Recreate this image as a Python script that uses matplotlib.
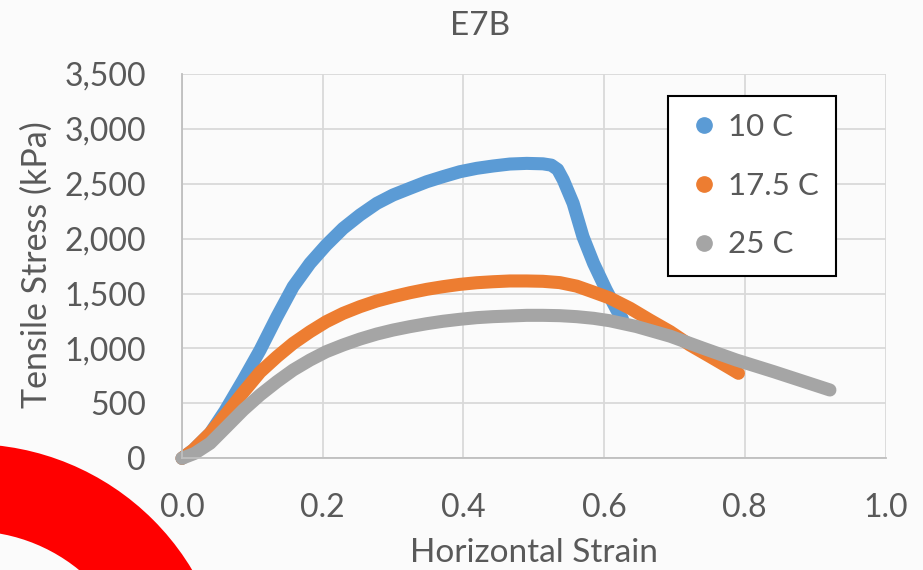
import matplotlib
matplotlib.use("Agg")
import matplotlib.pyplot as plt
from matplotlib.lines import Line2D
from matplotlib.patches import Wedge
from matplotlib.ticker import FuncFormatter

# ---- data ----
strain_10 = [0.0, 0.016, 0.040, 0.061, 0.087, 0.111, 0.135, 0.158, 0.182, 0.205, 0.229, 0.253,
             0.277, 0.300, 0.324, 0.348, 0.371, 0.395, 0.419, 0.442, 0.466, 0.490, 0.513,
             0.525, 0.534, 0.542, 0.556, 0.570, 0.585, 0.603, 0.618, 0.626]
stress_10 = [0, 76, 228, 430, 713, 986, 1290, 1563, 1776, 1942, 2094, 2216,
             2322, 2398, 2459, 2519, 2565, 2610, 2641, 2662, 2680, 2686, 2682,
             2670, 2630, 2535, 2322, 2018, 1776, 1533, 1351, 1270]

strain_175 = [0.0, 0.016, 0.040, 0.0635, 0.087, 0.111, 0.135, 0.158, 0.182, 0.205, 0.229, 0.253,
              0.277, 0.300, 0.324, 0.348, 0.371, 0.395, 0.419, 0.442, 0.466, 0.490, 0.513,
              0.537, 0.561, 0.580, 0.608, 0.637, 0.665, 0.694, 0.722, 0.751, 0.779, 0.791]
stress_175 = [0, 76, 228, 410, 600, 785, 925, 1047, 1153, 1244, 1320, 1381,
              1433, 1472, 1508, 1539, 1563, 1584, 1599, 1608, 1615, 1615, 1612,
              1600, 1568, 1525, 1460, 1366, 1259, 1153, 1032, 925, 820, 774]

strain_25 = [0.0, 0.018, 0.040, 0.0635, 0.087, 0.111, 0.135, 0.158, 0.182, 0.205, 0.229, 0.253,
             0.277, 0.300, 0.324, 0.348, 0.371, 0.395, 0.419, 0.442, 0.466, 0.490, 0.513,
             0.537, 0.561, 0.585, 0.608, 0.646, 0.694, 0.741, 0.788, 0.841, 0.921]
stress_25 = [0, 45, 137, 288, 440, 577, 698, 804, 895, 971, 1032, 1086,
             1132, 1168, 1199, 1226, 1248, 1266, 1281, 1290, 1296, 1302, 1302,
             1299, 1290, 1275, 1253, 1200, 1112, 1002, 895, 789, 622]

series_labels = ["10 C", "17.5 C", "25 C"]
series_colors = ["#5B9BD5", "#ED7D31", "#A5A5A5"]
x_ticks = [0.0, 0.2, 0.4, 0.6, 0.8, 1.0]
y_ticks = [0, 500, 1000, 1500, 2000, 2500, 3000, 3500]

title = "E7B"
x_label = "Horizontal Strain"
y_label = "Tensile Stress (kPa)"

# ---- figure ----
W, H = 923, 570
plt.rcParams["font.family"] = ["Lato", "DejaVu Sans"]
txt = "#595959"
fig = plt.figure(figsize=(W / 100, H / 100), dpi=100)
fig.patch.set_facecolor("#fbfbfb")

ax = fig.add_axes([182 / W, 1 - 458.3 / H, (885.5 - 182) / W, (458.3 - 74) / H])
ax.set_facecolor("#fbfbfb")
ax.set_xlim(0, 1.0)
ax.set_ylim(0, 3500)
ax.set_xticks(x_ticks)
ax.set_yticks(y_ticks)
ax.xaxis.set_major_formatter(FuncFormatter(lambda v, p: f"{v:.1f}"))
ax.yaxis.set_major_formatter(FuncFormatter(lambda v, p: f"{int(v):,}"))
ax.grid(True, color="#d9d9d9", lw=1.3)
ax.set_axisbelow(True)
for s in ["top", "right"]:
    ax.spines[s].set_visible(False)
for s in ["left", "bottom"]:
    ax.spines[s].set_color("#bfbfbf")
    ax.spines[s].set_linewidth(1.3)
ax.tick_params(length=0, labelsize=23, colors=txt)
ax.tick_params(axis="y", pad=26)
ax.tick_params(axis="x", pad=25)

data = [(strain_10, stress_10), (strain_175, stress_175), (strain_25, stress_25)]
for (xs, ys), c in zip(data, series_colors):
    ax.plot(xs, ys, color=c, lw=9.4, solid_capstyle="round", solid_joinstyle="round",
            clip_on=False)

handles = [Line2D([], [], ls="none", marker="o", ms=11, color=c) for c in series_colors]
leg = ax.legend(handles, series_labels, loc="upper left",
                bbox_to_anchor=(668 / W, 1 - 96 / H), bbox_transform=fig.transFigure,
                borderaxespad=0, frameon=True, fancybox=False, fontsize=22.5,
                labelcolor=txt, handletextpad=0.16, labelspacing=0.98, borderpad=0.55,
                handlelength=1.2)
leg.get_frame().set_edgecolor("black")
leg.get_frame().set_linewidth(1.5)
leg.get_frame().set_facecolor("white")
leg.get_frame().set_alpha(1)

fig.text(480 / W, 1 - 35 / H, title, ha="center", va="baseline", fontsize=24, color=txt)
fig.text(534 / W, 1 - 562 / H, x_label, ha="center", va="baseline", fontsize=24, color=txt)
fig.text(46.7 / W, 1 - 265 / H, y_label, ha="center", va="baseline", fontsize=24.5,
         color=txt, rotation=90, rotation_mode="anchor")

# decorative red arc at bottom-left
ov = fig.add_axes([0, 0, 1, 1], zorder=5)
ov.set_xlim(0, W)
ov.set_ylim(H, 0)
ov.axis("off")
ov.patch.set_alpha(0)
ov.add_patch(Wedge((-30, 703), 259, 180, 360, width=87, color="#ff0000", lw=0))

fig.savefig("out.png", dpi=100, facecolor=fig.get_facecolor())
